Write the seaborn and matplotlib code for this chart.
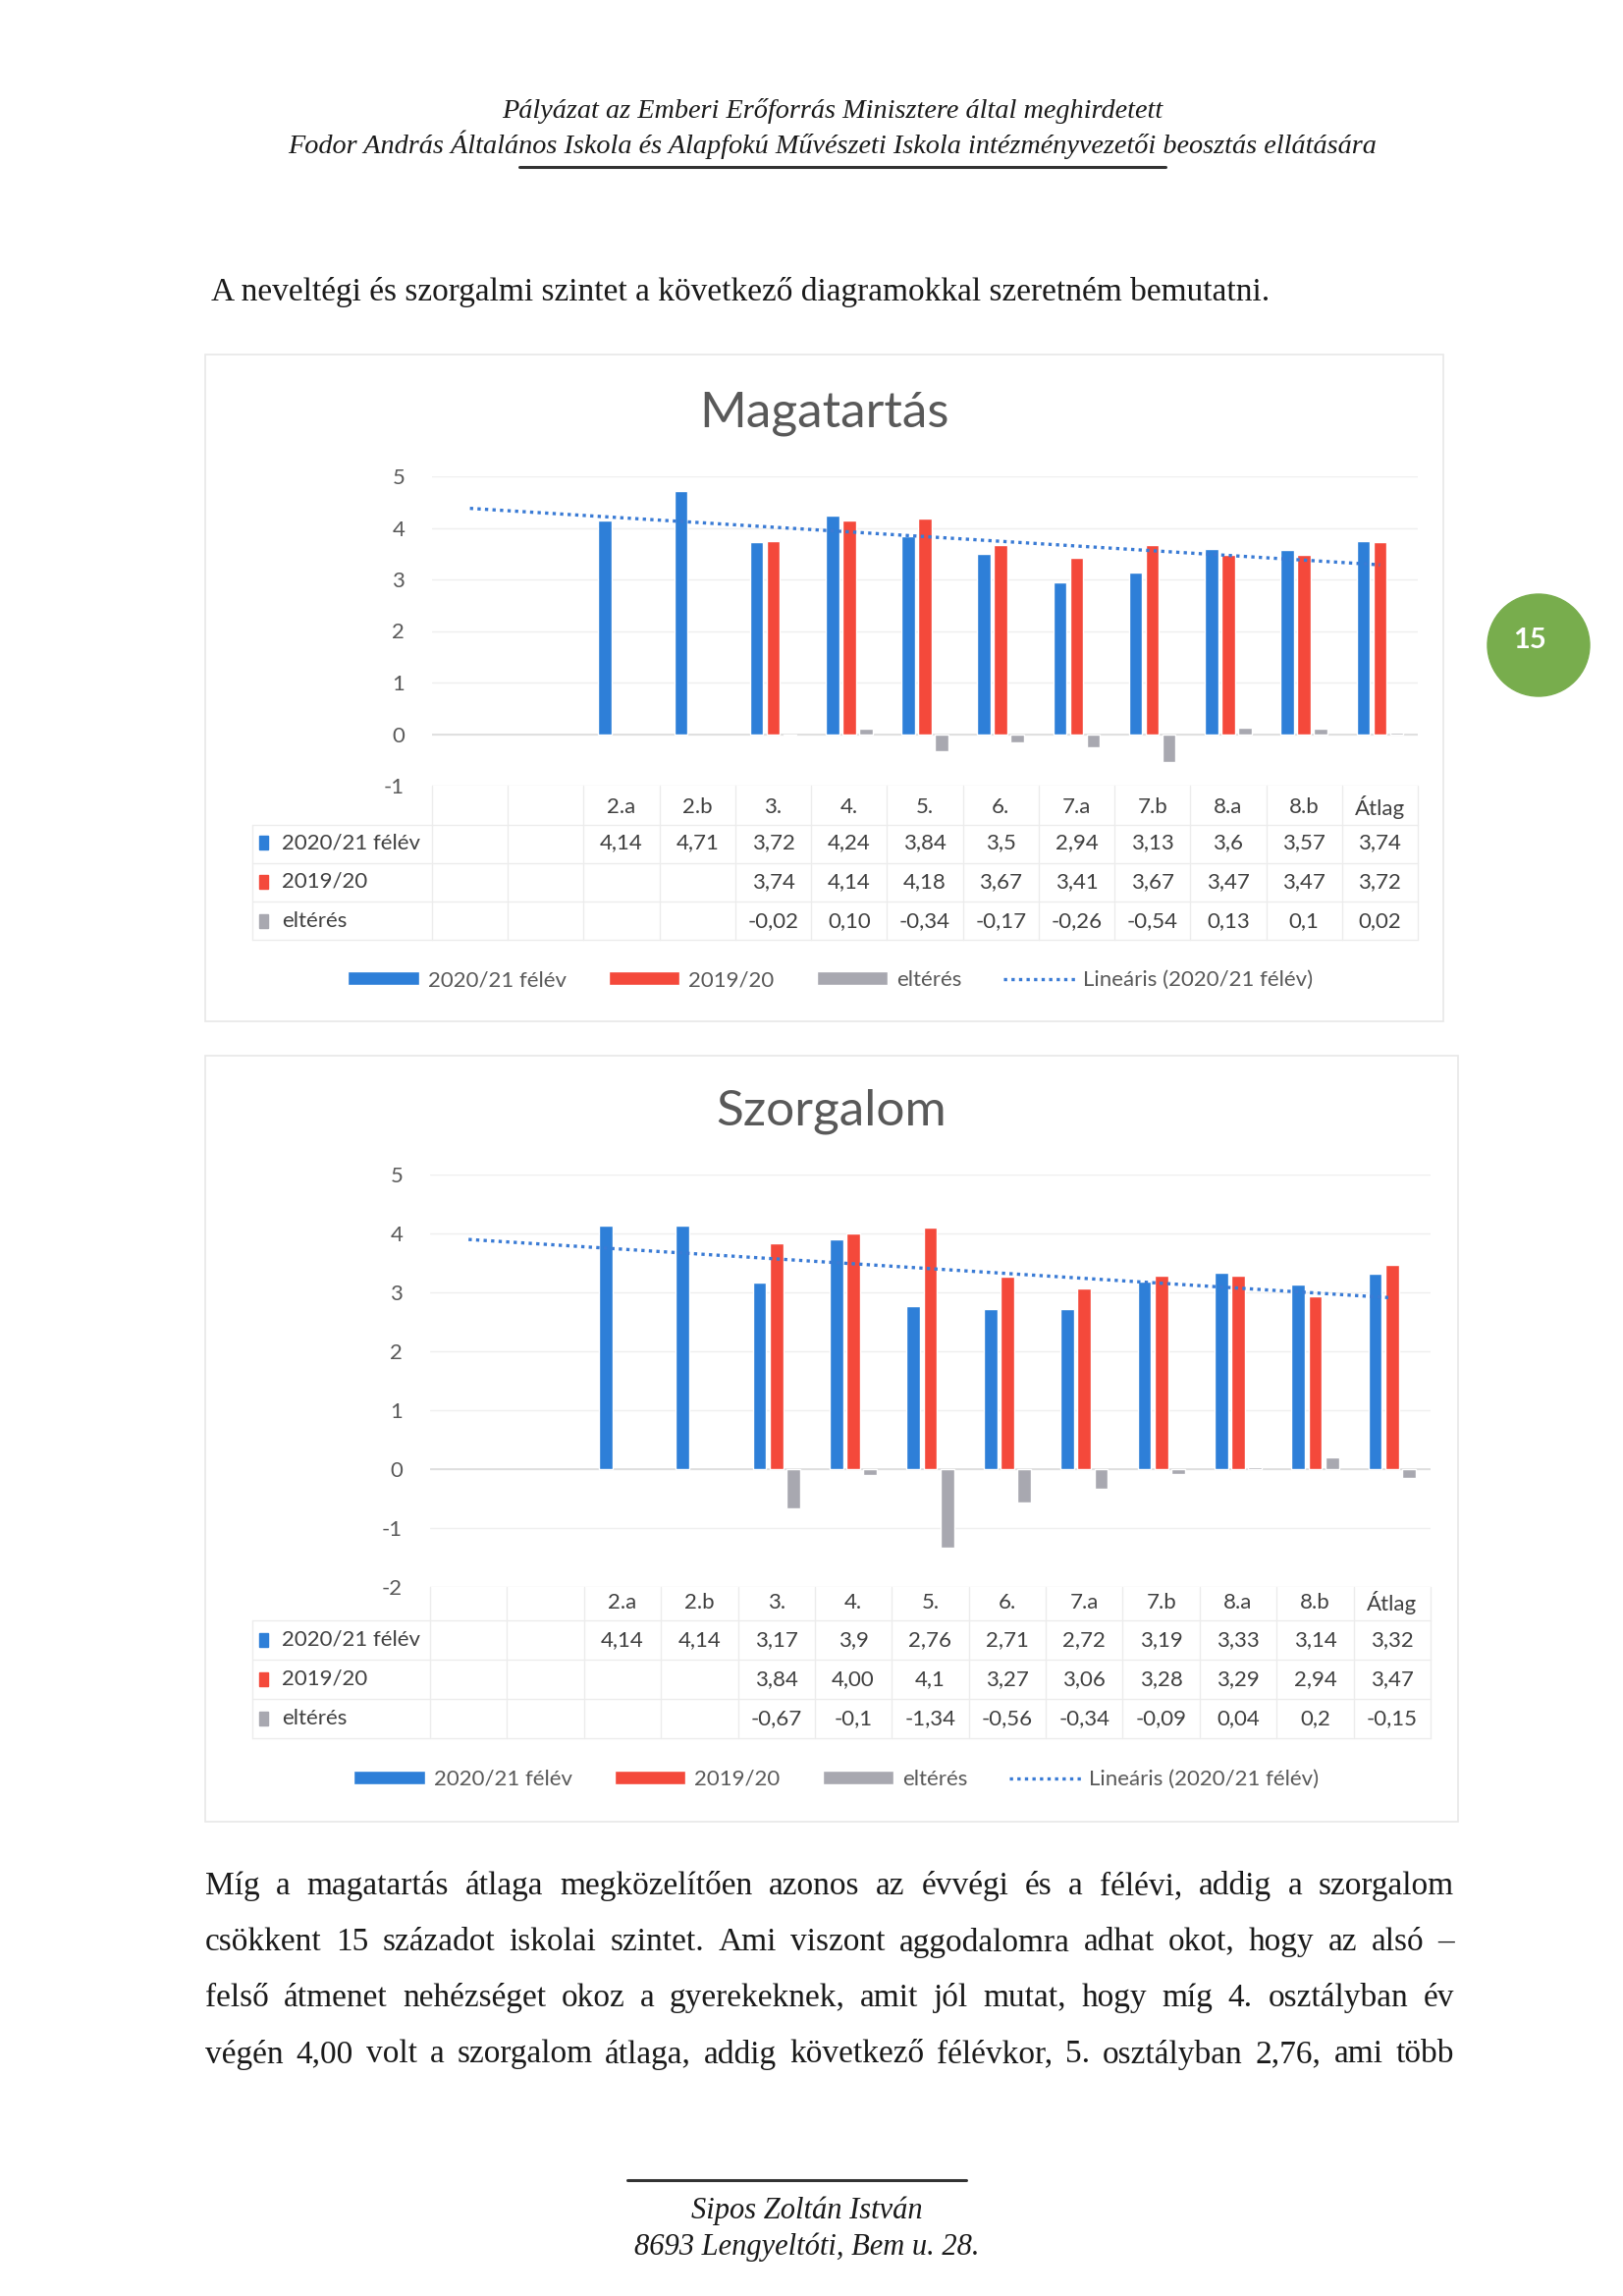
import numpy as np
import pandas as pd
import matplotlib
matplotlib.use("Agg")
import matplotlib.pyplot as plt
import seaborn as sns
from matplotlib.patches import Rectangle, Ellipse, Patch
from matplotlib.lines import Line2D
from matplotlib.transforms import blended_transform_factory

# page size in pixels (A4 scan)
W, H = 1653, 2338

# categories of both charts (the first two columns are empty in the source table)
CLASSES = ["", "", "2.a", "2.b", "3.", "4.", "5.", "6.", "7.a", "7.b", "8.a", "8.b", "Átlag"]
SERIES = ["2020/21 félév", "2019/20", "eltérés"]
COLORS = ["#2e7fd8", "#f4493b", "#a8a8b0"]
TREND_LABEL = "Lineáris (2020/21 félév)"

# Magatartás values, as written in the data table
MAG_FELEV = ["", "", "4,14", "4,71", "3,72", "4,24", "3,84", "3,5", "2,94", "3,13", "3,6", "3,57", "3,74"]
MAG_1920 = ["", "", "", "", "3,74", "4,14", "4,18", "3,67", "3,41", "3,67", "3,47", "3,47", "3,72"]
MAG_ELT = ["", "", "", "", "-0,02", "0,10", "-0,34", "-0,17", "-0,26", "-0,54", "0,13", "0,1", "0,02"]

# Szorgalom values
SZ_FELEV = ["", "", "4,14", "4,14", "3,17", "3,9", "2,76", "2,71", "2,72", "3,19", "3,33", "3,14", "3,32"]
SZ_1920 = ["", "", "", "", "3,84", "4,00", "4,1", "3,27", "3,06", "3,28", "3,29", "2,94", "3,47"]
SZ_ELT = ["", "", "", "", "-0,67", "-0,1", "-1,34", "-0,56", "-0,34", "-0,09", "0,04", "0,2", "-0,15"]

HEADER_1 = "Pályázat az Emberi Erőforrás Minisztere által meghirdetett"
HEADER_2 = "Fodor András Általános Iskola és Alapfokú Művészeti Iskola intézményvezetői beosztás ellátására"
INTRO = "A neveltégi és szorgalmi szintet a következő diagramokkal szeretném bemutatni."
BODY = [
    "Míg a magatartás átlaga megközelítően azonos az évvégi és a félévi, addig a szorgalom",
    "csökkent 15 századot iskolai szintet. Ami viszont aggodalomra adhat okot, hogy az alsó –",
    "felső átmenet nehézséget okoz a gyerekeknek, amit jól mutat, hogy míg 4. osztályban év",
    "végén 4,00 volt a szorgalom átlaga, addig következő félévkor, 5. osztályban 2,76, ami több",
]
FOOTER = ["Sipos Zoltán István", "8693 Lengyeltóti, Bem u. 28."]
PAGE_NO = "15"


def num(s):
    return float(s.replace(",", ".")) if s else np.nan


def fx(px):
    return px / W


def fy(py):
    return 1 - py / H


sns.set_style("white")
plt.rcParams["font.family"] = ["Lato", "DejaVu Sans"]
plt.rcParams["axes.unicode_minus"] = False

fig = plt.figure(figsize=(W / 100, H / 100), dpi=100)
fig.patch.set_facecolor("white")

SERIF = dict(family=["Liberation Serif", "DejaVu Serif"], color="#1a1a1a")
GREY_TXT = "#595959"
TABLE_LINE = "#ececec"


def draw_chart(title, rows, ylo, yhi, box, axpx, title_y, row_y, line_y, legend_y, legend_x):
    # outer frame of the excel chart
    fig.patches.append(Rectangle((fx(box[0]), fy(box[3])), (box[2] - box[0]) / W, (box[3] - box[1]) / H,
                                 transform=fig.transFigure, fill=False, ec="#e8e8e8", lw=1.2))
    x0, yt, x1, yb = axpx
    ax = fig.add_axes([fx(x0), fy(yb), (x1 - x0) / W, (yb - yt) / H])
    ax.patch.set_alpha(0)

    keys = [f"k{i}" for i in range(len(CLASSES))]
    recs = []
    for name, vals in zip(SERIES, rows):
        for k, v in zip(keys, vals):
            if v:
                recs.append({"cat": k, "series": name, "value": num(v)})
    df = pd.DataFrame(recs)

    ax.grid(axis="y", color="#efefef", lw=1)
    ax.set_axisbelow(True)
    sns.barplot(data=df, x="cat", y="value", hue="series", order=keys, hue_order=SERIES,
                palette=COLORS, saturation=1, width=0.66, gap=0.2, legend=False, ax=ax, zorder=2)
    ax.axhline(0, color="#dcdcdc", lw=1.2, zorder=1)

    # linear trendline of the first series, over all category positions
    y = np.array([num(v) for v in rows[0]])
    xs = np.arange(len(y))
    ok = ~np.isnan(y)
    slope, icpt = np.polyfit(xs[ok], y[ok], 1)
    ax.plot(xs, icpt + slope * xs, ls=(0, (1, 1.3)), color="#3a7bd5", lw=2.4, zorder=4)

    ticks = list(range(ylo, yhi + 1))
    ax.set_yticks(ticks)
    ax.set_yticklabels([str(t) for t in ticks])
    ax.set_xticks([])
    ax.set_xlabel("")
    ax.set_ylabel("")
    for s in ax.spines.values():
        s.set_visible(False)
    ax.tick_params(axis="y", length=0, pad=20, labelsize=16, labelcolor=GREY_TXT)

    fig.text(fx((box[0] + box[2]) / 2), fy(title_y), title, ha="center", va="center",
             fontsize=37, color=GREY_TXT)

    # data table under the plot
    tr = blended_transform_factory(ax.transData, fig.transFigure)
    for i, lab in enumerate(CLASSES):
        ax.text(i, fy(row_y[0]), lab, transform=tr, ha="center", va="center", fontsize=16, color="#404040")
    for r, vals in enumerate(rows):
        for i, v in enumerate(vals):
            if v:
                ax.text(i, fy(row_y[r + 1]), v, transform=tr, ha="center", va="center",
                        fontsize=16, color="#404040")
        fig.patches.append(Rectangle((fx(264), fy(row_y[r + 1] + 7)), 9 / W, 14 / H,
                                     transform=fig.transFigure, color=COLORS[r]))
        fig.text(fx(287), fy(row_y[r + 1]), SERIES[r], ha="left", va="center", fontsize=16, color="#404040")

    for ly in line_y:
        fig.add_artist(Line2D([fx(257), fx(x1)], [fy(ly), fy(ly)], color=TABLE_LINE, lw=1))
    for i in range(len(CLASSES) + 1):
        ax.plot([i - 0.5, i - 0.5], [fy(yb), fy(line_y[-1])], transform=tr, color=TABLE_LINE,
                lw=1, clip_on=False)
    fig.add_artist(Line2D([fx(257), fx(257)], [fy(line_y[0]), fy(line_y[-1])], color=TABLE_LINE, lw=1))

    ax.set_xlim(-0.5, len(CLASSES) - 0.5)
    ax.set_ylim(ylo, yhi)

    handles = [Patch(facecolor=c) for c in COLORS]
    handles.append(Line2D([], [], ls=(0, (1, 1.3)), color="#3a7bd5", lw=2.4))
    fig.legend(handles, SERIES + [TREND_LABEL], loc="center", bbox_to_anchor=(fx(legend_x), fy(legend_y)),
               ncol=4, frameon=False, fontsize=16, handlelength=3.25, handleheight=0.55,
               handletextpad=0.4, columnspacing=1.95, labelcolor=GREY_TXT)
    return ax


draw_chart("Magatartás", [MAG_FELEV, MAG_1920, MAG_ELT], -1, 5,
           box=(209, 361, 1470, 1040), axpx=(440, 485, 1444, 800), title_y=421,
           row_y=(822, 858, 898, 938), line_y=(840, 879, 918, 957), legend_y=998, legend_x=846)

draw_chart("Szorgalom", [SZ_FELEV, SZ_1920, SZ_ELT], -2, 5,
           box=(209, 1075, 1485, 1855), axpx=(438, 1196, 1457, 1616), title_y=1132,
           row_y=(1632, 1670, 1710, 1750), line_y=(1650, 1690, 1730, 1770), legend_y=1812, legend_x=852)

# page header
fig.text(fx(848), fy(113), HEADER_1, ha="center", va="center", style="italic", fontsize=20.3, **SERIF)
fig.text(fx(848), fy(147), HEADER_2, ha="center", va="center", style="italic", fontsize=20.3, **SERIF)
fig.add_artist(Line2D([fx(529), fx(1187)], [fy(170), fy(170)], color="#333333", lw=2.2))

fig.text(fx(215), fy(298), INTRO, ha="left", va="center", fontsize=24, **SERIF)

# justified paragraph
renderer = fig.canvas.get_renderer()


def justify(line, y, x0, x1):
    words = line.split()
    texts = [fig.text(0, fy(y), w, va="center", ha="left", fontsize=24, **SERIF) for w in words]
    widths = [t.get_window_extent(renderer).width for t in texts]
    gap = ((x1 - x0) - sum(widths)) / (len(words) - 1)
    x = x0
    for t, w in zip(texts, widths):
        t.set_x(fx(x))
        x += w + gap


for k, line in enumerate(BODY):
    justify(line, 1921 + 57 * k, 209, 1481)

# footer
fig.add_artist(Line2D([fx(639), fx(984)], [fy(2220), fy(2220)], color="#333333", lw=2.2))
fig.text(fx(822), fy(2251), FOOTER[0], ha="center", va="center", style="italic", fontsize=22, **SERIF)
fig.text(fx(822), fy(2288), FOOTER[1], ha="center", va="center", style="italic", fontsize=22, **SERIF)

# page number badge
fig.patches.append(Ellipse((fx(1567), fy(657)), 104 / W, 104 / H, transform=fig.transFigure, color="#78ad4d"))
fig.text(fx(1558), fy(652), PAGE_NO, ha="center", va="center", fontsize=21, fontweight="bold", color="white")

fig.savefig("out.png", dpi=100)
